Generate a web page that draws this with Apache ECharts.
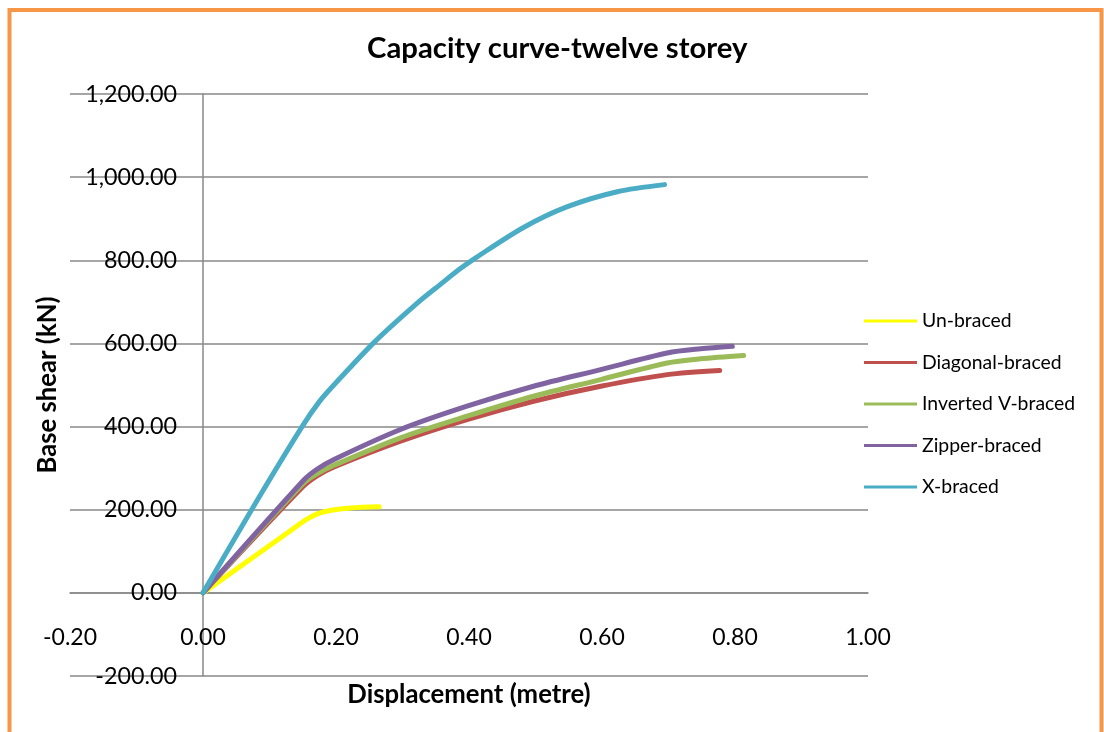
<!DOCTYPE html>
<html>
<head>
<meta charset="utf-8">
<title>Capacity curve-twelve storey</title>
<script src="https://cdn.jsdelivr.net/npm/echarts@6/dist/echarts.min.js"></script>
<style>
  html, body { margin: 0; padding: 0; background: #ffffff; }
  #chart { width: 1104px; height: 732px; }
</style>
</head>
<body>
<div id="chart"></div>
<script>
// Pushover capacity curves: [displacement (m), base shear (kN)]
const seriesNames = ['Un-braced', 'Diagonal-braced', 'Inverted V-braced', 'Zipper-braced', 'X-braced'];

const unBraced = [[0, 0], [0.132, 150], [0.157, 178], [0.182, 195], [0.222, 204], [0.265, 207]];
const diagonalBraced = [[0, 0], [0.15, 255], [0.172, 282], [0.197, 303], [0.297, 365], [0.397, 417], [0.497, 461], [0.598, 497], [0.698, 525], [0.777, 535]];
const invertedVBraced = [[0, 0], [0.15, 262], [0.172, 287], [0.197, 307], [0.297, 373], [0.397, 425], [0.497, 473], [0.598, 513], [0.698, 553], [0.748, 563], [0.813, 571]];
const zipperBraced = [[0, 0], [0.152, 272], [0.172, 298], [0.197, 321], [0.297, 393], [0.397, 449], [0.497, 497], [0.598, 537], [0.698, 577], [0.748, 587], [0.796, 593]];
const xBraced = [[0, 0], [0.082, 224], [0.149, 400], [0.175, 460], [0.198, 502], [0.257, 602], [0.323, 698], [0.357, 742], [0.387, 780], [0.41, 806], [0.482, 879], [0.548, 929], [0.623, 965], [0.694, 982]];

const seriesColors = ['#FFFF00', '#C0504D', '#9BBB59', '#8064A2', '#4BACC6'];

// Axis ranges
const xMin = -0.2, xMax = 1.0, xStep = 0.2;
const yMin = -200, yMax = 1200, yStep = 200;

const FONT = 'Lato, "Open Sans", sans-serif';

const chart = echarts.init(document.getElementById('chart'), null, { renderer: 'canvas' });

function fmtShear(v) {
  return Number(v).toLocaleString('en-US', { minimumFractionDigits: 2, maximumFractionDigits: 2 });
}

const dataSets = [unBraced, diagonalBraced, invertedVBraced, zipperBraced, xBraced];

chart.setOption({
  animation: false,
  backgroundColor: '#ffffff',
  title: {
    text: 'Capacity curve-twelve storey',
    left: 367,
    top: 29,
    padding: [5, 0, 5, 0],
    textStyle: { fontFamily: FONT, fontWeight: 'bold', fontSize: 29.3, color: '#000000' }
  },
  legend: {
    orient: 'vertical',
    left: 859,
    top: 306,
    icon: 'rect',
    itemWidth: 53,
    itemHeight: 3,
    itemGap: 21.5,
    textStyle: { fontFamily: FONT, fontSize: 19.4, color: '#000000', lineHeight: 20 },
    data: seriesNames
  },
  grid: { left: 70, right: 236, top: 94, bottom: 56, containLabel: false, outerBoundsMode: 'none' },
  xAxis: {
    type: 'value',
    min: xMin, max: xMax, interval: xStep,
    name: 'Displacement (metre)',
    nameLocation: 'middle',
    nameGap: 6,
    nameTextStyle: { fontFamily: FONT, fontWeight: 'bold', fontSize: 25.7, color: '#000000' },
    axisLine: { onZero: true, lineStyle: { color: '#898989', width: 1.5 } },
    axisTick: { show: false },
    splitLine: { show: false },
    axisLabel: {
      margin: -50,
      fontFamily: FONT, fontSize: 23, color: '#000000',
      formatter: v => Number(v).toFixed(2)
    }
  },
  yAxis: {
    type: 'value',
    min: yMin, max: yMax, interval: yStep,
    name: 'Base shear (kN)',
    nameLocation: 'middle',
    nameGap: 9,
    nameTextStyle: { fontFamily: FONT, fontWeight: 'bold', fontSize: 25.7, color: '#000000' },
    axisLine: { show: true, onZero: true, lineStyle: { color: '#898989', width: 1.5 } },
    axisTick: { show: false },
    splitLine: { show: true, lineStyle: { color: '#898989', width: 1.5 } },
    axisLabel: {
      margin: -107,
      fontFamily: FONT, fontSize: 23.3, color: '#000000',
      formatter: v => fmtShear(v)
    }
  },
  graphic: [{
    type: 'rect',
    silent: true,
    z: 100,
    shape: { x: 9.5, y: 10, width: 1092, height: 780 },
    style: { fill: 'none', stroke: '#F79646', lineWidth: 4 }
  }],
  series: seriesNames.map((name, i) => ({
    name: name,
    type: 'line',
    data: dataSets[i],
    smooth: 0.3,
    showSymbol: false,
    symbol: 'none',
    color: seriesColors[i],
    lineStyle: { color: seriesColors[i], width: 5, cap: 'round', join: 'round' }
  }))
});
</script>
</body>
</html>
